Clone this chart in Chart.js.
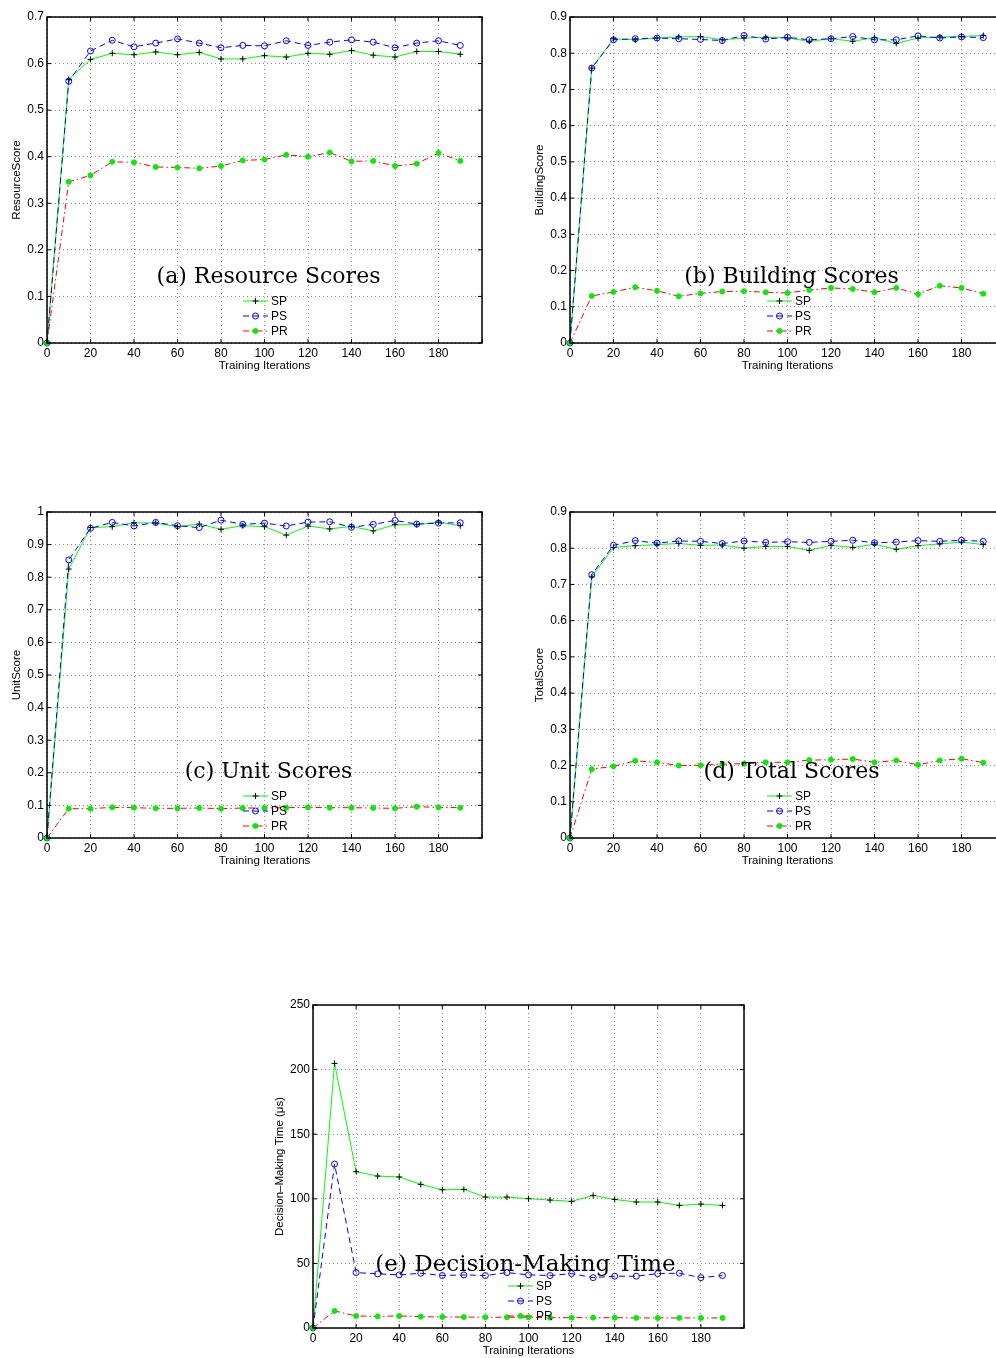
<!DOCTYPE html>
<html lang="en">
<head>
<meta charset="UTF-8">
<title>Scores and Decision-Making Time vs Training Iterations</title>
<script src="https://cdn.jsdelivr.net/npm/chart.js@4.4.0/dist/chart.umd.min.js"></script>
<style>
    html, body {
        margin: 0;
        padding: 0;
        width: 996px;
        height: 1358px;
        overflow: hidden;
        background: #ffffff;
    }
    .panel {
        position: absolute;
    }
</style>
</head>
<body>

<div class="panel" style="left:0px;top:0px;width:492px;height:373px"><canvas id="chartA"></canvas></div>
<div class="panel" style="left:523px;top:0px;width:492px;height:373px"><canvas id="chartB"></canvas></div>
<div class="panel" style="left:0px;top:495px;width:492px;height:373px"><canvas id="chartC"></canvas></div>
<div class="panel" style="left:523px;top:495px;width:492px;height:373px"><canvas id="chartD"></canvas></div>
<div class="panel" style="left:266px;top:988px;width:488px;height:370px"><canvas id="chartE"></canvas></div>

<script>
    // x values (training iterations)
    var iterations = [0, 10, 20, 30, 40, 50, 60, 70, 80, 90, 100, 110, 120, 130, 140, 150, 160, 170, 180, 190];
    var seriesNames = ['SP', 'PS', 'PR'];

    // (a) resource scores
    var resourceSP = [0, 0.566, 0.609, 0.622, 0.619, 0.625, 0.619, 0.624, 0.610, 0.610, 0.617, 0.614, 0.622, 0.620, 0.628, 0.618, 0.614, 0.626, 0.626, 0.620];
    var resourcePS = [0, 0.562, 0.627, 0.650, 0.636, 0.644, 0.653, 0.644, 0.634, 0.639, 0.638, 0.649, 0.639, 0.646, 0.651, 0.646, 0.634, 0.644, 0.649, 0.639];
    var resourcePR = [0, 0.346, 0.360, 0.389, 0.388, 0.378, 0.377, 0.375, 0.380, 0.392, 0.394, 0.404, 0.400, 0.409, 0.390, 0.391, 0.380, 0.385, 0.408, 0.391];

    // (b) building scores
    var buildingSP = [0, 0.759, 0.840, 0.837, 0.842, 0.845, 0.846, 0.837, 0.842, 0.844, 0.842, 0.833, 0.840, 0.833, 0.843, 0.827, 0.842, 0.845, 0.846, 0.849];
    var buildingPS = [0, 0.759, 0.837, 0.840, 0.842, 0.840, 0.838, 0.835, 0.849, 0.839, 0.844, 0.837, 0.840, 0.846, 0.837, 0.837, 0.848, 0.842, 0.845, 0.843];
    var buildingPR = [0, 0.130, 0.141, 0.154, 0.144, 0.129, 0.137, 0.142, 0.143, 0.140, 0.138, 0.146, 0.152, 0.149, 0.140, 0.152, 0.135, 0.158, 0.152, 0.136];

    // (c) unit scores
    var unitSP = [0, 0.825, 0.952, 0.955, 0.967, 0.966, 0.955, 0.963, 0.947, 0.958, 0.955, 0.929, 0.957, 0.948, 0.956, 0.942, 0.961, 0.961, 0.969, 0.958];
    var unitPS = [0, 0.853, 0.950, 0.968, 0.957, 0.968, 0.958, 0.952, 0.975, 0.962, 0.966, 0.957, 0.969, 0.970, 0.953, 0.962, 0.974, 0.963, 0.966, 0.967];
    var unitPR = [0, 0.090, 0.090, 0.094, 0.093, 0.091, 0.091, 0.092, 0.090, 0.092, 0.092, 0.093, 0.094, 0.093, 0.093, 0.092, 0.091, 0.096, 0.094, 0.093];

    // (d) total scores
    var totalSP = [0, 0.721, 0.802, 0.807, 0.810, 0.813, 0.808, 0.809, 0.800, 0.805, 0.805, 0.794, 0.808, 0.802, 0.811, 0.797, 0.807, 0.812, 0.817, 0.810];
    var totalPS = [0, 0.727, 0.808, 0.821, 0.814, 0.820, 0.819, 0.813, 0.820, 0.816, 0.818, 0.816, 0.819, 0.822, 0.815, 0.817, 0.821, 0.819, 0.822, 0.819];
    var totalPR = [0, 0.190, 0.198, 0.213, 0.209, 0.200, 0.201, 0.204, 0.205, 0.209, 0.209, 0.215, 0.216, 0.218, 0.209, 0.214, 0.202, 0.214, 0.219, 0.208];

    // (e) decision-making time (microseconds)
    var timeSP = [0, 204.8, 121.0, 117.6, 116.9, 111.2, 107.0, 107.3, 101.3, 101.3, 100.1, 99.0, 98.0, 102.6, 99.5, 97.5, 97.5, 94.9, 95.9, 94.9];
    var timePS = [0, 126.9, 42.9, 41.9, 41.1, 42.4, 40.6, 41.1, 40.6, 42.9, 41.1, 40.6, 42.1, 39.0, 40.1, 40.1, 42.1, 42.4, 39.0, 40.6];
    var timePR = [0, 13.2, 9.3, 9.0, 9.3, 8.8, 8.5, 8.5, 8.3, 8.3, 8.3, 8.0, 8.0, 8.0, 8.0, 7.8, 7.8, 7.8, 7.8, 7.8];

    var sansFont = '"Liberation Sans", Arial, sans-serif';
    var serifFont = '"DejaVu Serif", serif';

    // line/marker styles per series (matlab-ish)
    var styles = [
        {line: '#00ff00', dash: [], marker: 'cross', markerColor: '#000000', fill: 'rgba(0,0,0,0)', radius: 3, order: 3},
        {line: '#0000ff', dash: [6, 4], marker: 'circle', markerColor: '#0000ff', fill: 'rgba(0,0,0,0)', radius: 3, order: 2},
        {line: '#ff0000', dash: [6, 3, 1.5, 3], marker: 'circle', markerColor: '#00ee00', fill: '#00ee00', radius: 2.5, order: 1}
    ];

    function drawMarker(ctx, st, x, y) {
        ctx.save();
        ctx.setLineDash([]);
        ctx.lineWidth = 1;
        ctx.strokeStyle = st.markerColor;
        ctx.fillStyle = st.fill;
        if (st.marker === 'cross') {
            ctx.beginPath();
            ctx.moveTo(x - st.radius, y); ctx.lineTo(x + st.radius, y);
            ctx.moveTo(x, y - st.radius); ctx.lineTo(x, y + st.radius);
            ctx.stroke();
        } else {
            ctx.beginPath();
            ctx.arc(x, y, st.radius, 0, Math.PI * 2);
            ctx.fill();
            ctx.stroke();
        }
        ctx.restore();
    }

    // box, inward ticks, inner title and legend like the matlab figure
    var matlabFrame = {
        id: 'matlabFrame',
        afterDatasetsDraw: function(chart, args, opts) {
            var ctx = chart.ctx;
            var a = chart.chartArea;
            var xs = chart.scales.x, ys = chart.scales.y;
            ctx.save();
            ctx.setLineDash([]);
            ctx.strokeStyle = '#000';
            ctx.lineWidth = 1.5;
            ctx.strokeRect(a.left, a.top, a.right - a.left, a.bottom - a.top);

            ctx.lineWidth = 1;
            ctx.beginPath();
            xs.ticks.forEach(function(t) {
                var px = xs.getPixelForValue(t.value);
                ctx.moveTo(px, a.bottom); ctx.lineTo(px, a.bottom - 4);
                ctx.moveTo(px, a.top); ctx.lineTo(px, a.top + 4);
            });
            ys.ticks.forEach(function(t) {
                var py = ys.getPixelForValue(t.value);
                ctx.moveTo(a.left, py); ctx.lineTo(a.left + 4, py);
                ctx.moveTo(a.right, py); ctx.lineTo(a.right - 4, py);
            });
            ctx.stroke();

            // title inside the plot
            ctx.font = opts.titleSize + 'px ' + serifFont;
            ctx.fillStyle = '#000';
            ctx.textAlign = 'center';
            ctx.textBaseline = 'alphabetic';
            ctx.fillText(opts.title, (a.left + a.right) / 2 + opts.titleShift, a.bottom - opts.titleUp);

            // legend
            var x0 = a.left + opts.legendLeft;
            ctx.font = '12px ' + sansFont;
            ctx.textAlign = 'left';
            ctx.textBaseline = 'middle';
            for (var i = 0; i < 3; i++) {
                var st = styles[i];
                var y = a.bottom - 12 - 15 * (2 - i);
                ctx.save();
                ctx.strokeStyle = st.line;
                ctx.lineWidth = 1;
                ctx.setLineDash(st.dash);
                ctx.beginPath();
                ctx.moveTo(x0, y); ctx.lineTo(x0 + 25, y);
                ctx.stroke();
                ctx.restore();
                drawMarker(ctx, st, x0 + 12.5, y);
                ctx.fillStyle = '#000';
                ctx.fillText(seriesNames[i], x0 + 28, y + 1);
            }
            ctx.restore();
        }
    };

    function makeChart(id, cfg) {
        var seriesData = [cfg.sp, cfg.ps, cfg.pr];
        var datasets = seriesData.map(function(vals, i) {
            var st = styles[i];
            return {
                label: seriesNames[i],
                data: iterations.map(function(it, k) { return {x: it, y: vals[k]}; }),
                borderColor: st.line,
                borderWidth: 1,
                borderDash: st.dash,
                pointStyle: st.marker,
                pointRadius: st.radius,
                pointBorderColor: st.markerColor,
                pointBackgroundColor: st.fill,
                pointBorderWidth: 1,
                tension: 0,
                clip: false,
                order: st.order
            };
        });

        return new Chart(document.getElementById(id), {
            type: 'line',
            data: {datasets: datasets},
            plugins: [matlabFrame],
            options: {
                responsive: true,
                maintainAspectRatio: false,
                animation: false,
                layout: {padding: {top: 17, right: 10, left: 0, bottom: 0}},
                plugins: {
                    legend: {display: false},
                    tooltip: {enabled: false},
                    matlabFrame: {
                        title: cfg.title, titleUp: cfg.titleUp, titleShift: cfg.titleShift,
                        titleSize: cfg.titleSize, legendLeft: cfg.legendLeft
                    }
                },
                scales: {
                    x: {
                        type: 'linear',
                        min: 0,
                        max: 200,
                        afterFit: function(scale) { scale.height = 30; },
                        ticks: {
                            stepSize: 20,
                            padding: 3,
                            color: '#000',
                            font: {family: sansFont, size: 12},
                            maxRotation: 0,
                            callback: function(v) { return v === 200 ? '' : v; }
                        },
                        grid: {color: '#8c8c8c', lineWidth: 1, drawTicks: false},
                        border: {display: false, dash: [1, 3]},
                        title: {
                            display: true,
                            text: 'Training Iterations',
                            color: '#000',
                            font: {family: sansFont, size: 11.5},
                            padding: {top: 0, bottom: 0}
                        }
                    },
                    y: {
                        min: 0,
                        max: cfg.ymax,
                        afterFit: function(scale) { scale.width = 47; },
                        ticks: {
                            stepSize: cfg.ystep,
                            padding: 3,
                            color: '#000',
                            font: {family: sansFont, size: 12},
                            callback: function(v) { return String(Number(v.toFixed(3))); }
                        },
                        grid: {color: '#8c8c8c', lineWidth: 1, drawTicks: false},
                        border: {display: false, dash: [1, 3]},
                        title: {
                            display: true,
                            text: cfg.ytitle,
                            color: '#000',
                            font: {family: sansFont, size: 11.5},
                            padding: {top: cfg.ytitlePad, bottom: 0}
                        }
                    }
                }
            }
        });
    }

    makeChart('chartA', {sp: resourceSP, ps: resourcePS, pr: resourcePR, ymax: 0.7, ystep: 0.1,
        ytitle: 'ResourceScore', ytitlePad: 10, title: '(a) Resource Scores', titleUp: 60, titleShift: 4, titleSize: 22, legendLeft: 196});
    makeChart('chartB', {sp: buildingSP, ps: buildingPS, pr: buildingPR, ymax: 0.9, ystep: 0.1,
        ytitle: 'BuildingScore', ytitlePad: 10, title: '(b) Building Scores', titleUp: 60, titleShift: 4, titleSize: 22, legendLeft: 197});
    makeChart('chartC', {sp: unitSP, ps: unitPS, pr: unitPR, ymax: 1, ystep: 0.1,
        ytitle: 'UnitScore', ytitlePad: 10, title: '(c) Unit Scores', titleUp: 60, titleShift: 4, titleSize: 22, legendLeft: 196});
    makeChart('chartD', {sp: totalSP, ps: totalPS, pr: totalPR, ymax: 0.9, ystep: 0.1,
        ytitle: 'TotalScore', ytitlePad: 10, title: '(d) Total Scores', titleUp: 60, titleShift: 4, titleSize: 22, legendLeft: 197});
    makeChart('chartE', {sp: timeSP, ps: timePS, pr: timePR, ymax: 250, ystep: 50,
        ytitle: 'Decision\u2013Making Time (\u03bcs)', ytitlePad: 7, title: '(e) Decision-Making Time', titleUp: 57, titleShift: -3, titleSize: 23, legendLeft: 195});
</script>
</body>
</html>
